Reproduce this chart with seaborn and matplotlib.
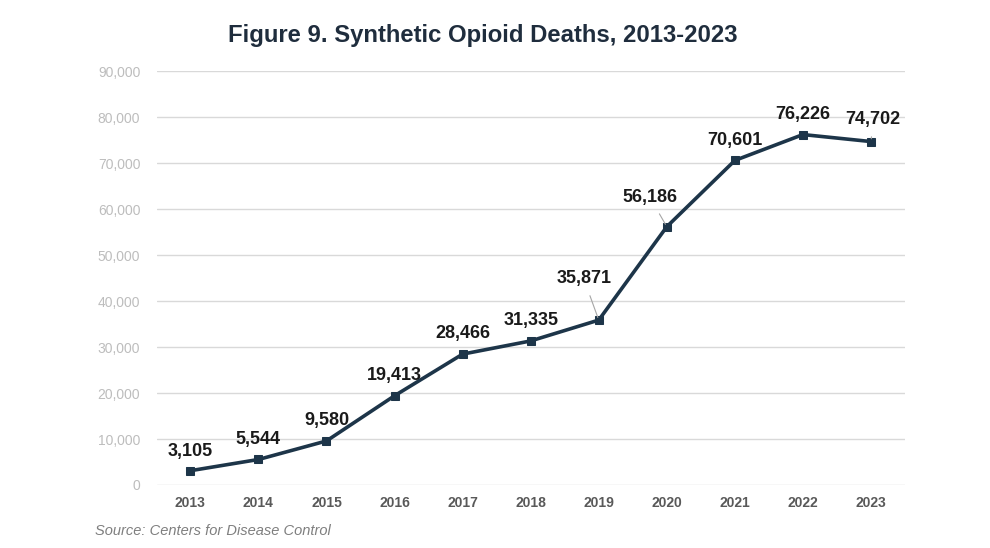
import numpy as np
import pandas as pd
import seaborn as sns
import matplotlib.pyplot as plt

# Dados do gráfico
anos = ['2013', '2014', '2015', '2016', '2017', '2018', '2019', '2020', '2021', '2022', '2023']
mortes = [3105, 5544, 9580, 19413, 28466, 31335, 35871, 56186, 70601, 76226, 74702]
y_ticks = [0, 10000, 20000, 30000, 40000, 50000, 60000, 70000, 80000, 90000]

# Deslocamento dos rótulos (dx em posições, dy em mortes) e se tem linha guia
rotulo_dx = [0, 0, 0, 0, 0, 0, -0.22, -0.25, 0, 0, 0.03]
rotulo_dy = [4200, 4400, 4400, 4400, 4400, 4400, 9000, 6400, 4400, 4400, 4800]
guia = [False, False, False, False, False, False, True, True, False, False, True]

sns.set_theme(style='white')
plt.rcParams['font.family'] = ['Liberation Sans', 'DejaVu Sans']

df = pd.DataFrame({'ano': anos, 'mortes': mortes})

fig = plt.figure(figsize=(9.9, 5.48), dpi=100)
ax = fig.add_axes([0.1586, 0.115, 0.7556, 0.755])

cor_linha = '#1d3549'
sns.lineplot(data=df, x='ano', y='mortes', ax=ax, color=cor_linha, linewidth=2.6,
             marker='s', markersize=6, markeredgecolor=cor_linha, sort=False)

ax.set_ylim(0, 90000)
ax.set_xlim(-0.49, len(anos) - 0.5)
ax.set_yticks(y_ticks)
ax.set_yticklabels([f'{v:,}' for v in y_ticks], color='#bdbdbd', fontsize=10)
ax.set_xticks(range(len(anos)))
ax.set_xticklabels(anos, color='#595959', fontsize=10, fontweight='bold')
ax.tick_params(axis='both', length=0)
ax.tick_params(axis='y', pad=12)
ax.tick_params(axis='x', pad=8)
ax.grid(axis='y', color='#d9d9d9', linewidth=1)
ax.set_axisbelow(True)
for s in ax.spines.values():
    s.set_visible(False)
ax.set_xlabel('')
ax.set_ylabel('')

# Rótulos de dados
for i, v in enumerate(mortes):
    tx = i + rotulo_dx[i]
    ty = v + rotulo_dy[i]
    if guia[i]:
        ax.annotate(f'{v:,}', xy=(i, v), xytext=(tx, ty), ha='center', va='center',
                    fontsize=13, fontweight='bold', color='#1a1a1a',
                    arrowprops=dict(arrowstyle='-', color='#a6a6a6', lw=0.8,
                                    shrinkA=4, shrinkB=2))
    else:
        ax.text(tx, ty, f'{v:,}', ha='center', va='center',
                fontsize=13, fontweight='bold', color='#1a1a1a')

fig.text(0.488, 0.936, 'Figure 9. Synthetic Opioid Deaths, 2013-2023', ha='center', va='center',
         fontsize=17.2, fontweight='bold', color='#1f2d3d')
fig.text(0.096, 0.031, 'Source: Centers for Disease Control', ha='left', va='center',
         fontsize=10.5, style='italic', color='#7f7f7f')

plt.savefig('out.png', dpi=100)
